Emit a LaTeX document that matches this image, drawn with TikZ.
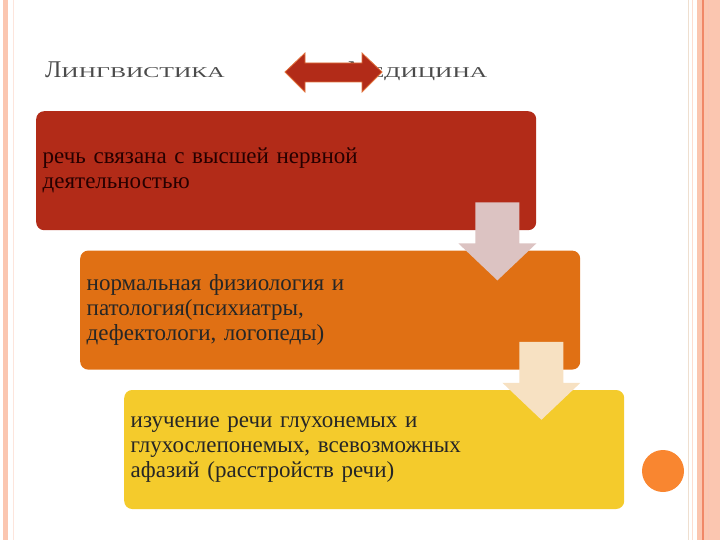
\documentclass[tikz,border=0pt]{standalone}
\usepackage{fontspec}
\setmainfont{Liberation Serif}
\usepackage{xcolor}
\usetikzlibrary{positioning,calc}
\definecolor{tierred}{HTML}{B22B18}
\definecolor{tierorange}{HTML}{E07014}
\definecolor{tieryellow}{HTML}{F4CB2C}
\definecolor{flowpink}{HTML}{DCC3C2}
\definecolor{flowcream}{HTML}{F7E1C2}
\definecolor{peach}{HTML}{FBC6B0}
\definecolor{peachline}{HTML}{F08868}
\definecolor{titlegrey}{HTML}{4A4A4A}
\definecolor{dotorange}{HTML}{F98630}
\definecolor{arrowedge}{HTML}{E0703A}

% pale block arrow hanging from the lower right corner of a tier
\newcommand{\flowarrow}[2]{\fill[#2] ($(#1.south east)+(-61,-28)$) -- ++(44,0) -- ++(0,41) -- ++(17,0) -- ++(-39,37) -- ++(-39,-37) -- ++(17,0) -- cycle;}

\begin{document}
\begin{tikzpicture}[x=1pt, y=-1pt,
  tier/.style={rounded corners=8pt, minimum width=500pt, minimum height=119pt, text width=487pt, inner xsep=6.5pt, align=left, font=\fontsize{23}{25}\selectfont},
  caps/.style={anchor=base west, inner sep=0pt, text=titlegrey}]
\useasboundingbox (0,0) rectangle (720,540);

% slide frame
\fill[peach] (3,0) rectangle (8,540);
\draw[peach!45, line width=1pt] (13,0) -- (13,540);
\draw[brown!25, line width=1pt] (688,0) -- (688,540);
\draw[peach!60, line width=1pt] (692,0) -- (692,540);
\fill[peach] (697,0) rectangle (720,540);
\draw[peachline, line width=1.2pt] (703,0) -- (703,540);
\draw[peachline!50, line width=0.8pt] (708,0) -- (708,540);

% title
\node[caps] (ling) at (45,78) {\fontsize{24}{28}\selectfont Л\fontsize{15}{16}\selectfont\scalebox{1.6}[1]{ИНГВИСТИКА}};
\node[caps] (med) at (348,78) {\fontsize{24}{28}\selectfont М\fontsize{15}{16}\selectfont\scalebox{1.6}[1]{ЕДИЦИНА}};
\fill[tierred, draw=arrowedge, line width=0.8pt] (285,72) -- (305,53) -- (305,63) -- (362,63) -- (362,53) -- (382,72) -- (362,92) -- (362,82) -- (305,82) -- (305,92) -- cycle;

% tiers
\node[tier, fill=tierred, text=black!85!red, anchor=north west] (b1) at (36,111) {речь связана с высшей нервной\\деятельностью};
\node[tier, fill=tierorange, text=black!85, below right=20pt and 44pt of b1.south west] (b2) {нормальная физиология и\\патология(психиатры,\\дефектологи, логопеды)};
\node[tier, fill=tieryellow, text=black!85, below right=20pt and 44pt of b2.south west] (b3) {изучение речи глухонемых и\\глухослепонемых, всевозможных\\афазий (расстройств речи)};

\foreach \b/\c in {b1/flowpink, b2/flowcream}
  {\flowarrow{\b}{\c}}

\node[circle, fill=dotorange, minimum size=42pt, inner sep=0pt] (dot) at (663,471) {};
\end{tikzpicture}
\end{document}
